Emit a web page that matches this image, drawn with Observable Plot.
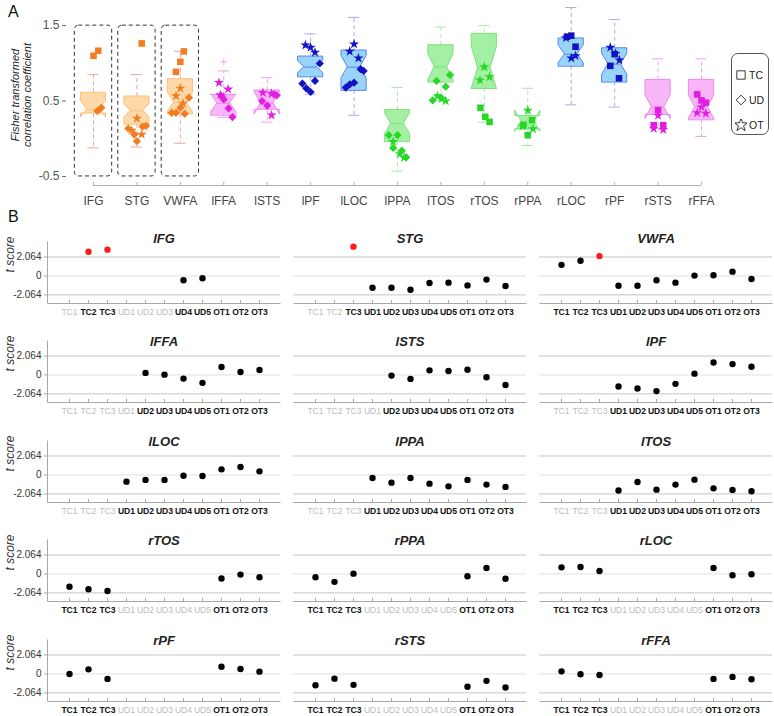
<!DOCTYPE html>
<html><head><meta charset="utf-8">
<script src="https://cdn.jsdelivr.net/npm/d3@7"></script>
<script src="https://cdn.jsdelivr.net/npm/@observablehq/plot@0.6"></script>
<style>
body{margin:0;background:#fff;font-family:"Liberation Sans",Arial,Helvetica,sans-serif;}
#page{position:relative;width:774px;height:716px;overflow:hidden;background:#fff;}
.plabel{position:absolute;font-size:16px;color:#111;}
#ytitleA{position:absolute;left:21px;top:95px;width:140px;transform:translate(-50%,-50%) rotate(-90deg);text-align:center;font-size:11px;line-height:12px;font-style:italic;color:#222;white-space:nowrap;}
#legend{position:absolute;left:731px;top:53px;width:38px;height:82px;border:1px solid #555;border-radius:7px;background:#fff;box-sizing:border-box;padding-top:8px;}
#legend div{display:flex;align-items:center;height:25px;font-size:10.5px;color:#222;padding-left:3px;}
#legend svg{margin-right:2px;}
</style></head><body><div id="page"></div>
<script>
// ---------- DATA ----------
const regions = ["IFG","STG","VWFA","lFFA","lSTS","lPF","lLOC","lPPA","lTOS","rTOS","rPPA","rLOC","rPF","rSTS","rFFA"];
const regionGroup = ["word","word","word","face","face","object","object","place","place","place","place","object","object","face","face"];
const highlighted = ["IFG","STG","VWFA"];
const yTicksA = [-0.5, 0.5, 1.5];
const yTitleA = ["Fisher transformed", "correlation coefficient"];

// box-plot statistics (Fisher z)
const whiskerLo = [-0.12,-0.11,-0.06,0.28,0.22,0.59,0.31,-0.43,0.50,0.22,-0.09,0.45,0.42,0.13,0.03];
const q1        = [0.33,0.19,0.33,0.31,0.38,0.82,0.64,-0.04,0.75,0.66,0.12,0.96,0.75,0.31,0.25];
const median    = [0.39,0.37,0.48,0.47,0.47,0.95,0.95,0.20,0.95,0.94,0.23,1.12,0.99,0.42,0.42];
const q3        = [0.61,0.56,0.79,0.58,0.64,1.09,1.17,0.38,1.24,1.39,0.30,1.33,1.20,0.78,0.78];
const whiskerHi = [0.85,0.85,1.16,0.90,0.81,1.39,1.61,0.68,1.48,1.50,0.67,1.74,1.58,1.06,1.06];
const notchHalf = [0.11,0.09,0.13,0.12,0.15,0.08,0.15,0.14,0.17,0.28,0.14,0.12,0.14,0.16,0.15];
const outlierRegion = ["lFFA"];
const outlierValue = [1.02];

// individual points (panel A): region, condition type, value, horizontal jitter (category units)
const ptRegion = ["IFG","IFG","IFG","IFG",
 "STG","STG","STG","STG","STG","STG","STG","STG","STG",
 "VWFA","VWFA","VWFA","VWFA","VWFA","VWFA","VWFA","VWFA","VWFA","VWFA","VWFA",
 "lFFA","lFFA","lFFA","lFFA","lFFA","lFFA","lFFA",
 "lSTS","lSTS","lSTS","lSTS","lSTS","lSTS","lSTS",
 "lPF","lPF","lPF","lPF","lPF","lPF","lPF","lPF",
 "lLOC","lLOC","lLOC","lLOC","lLOC","lLOC","lLOC","lLOC",
 "lPPA","lPPA","lPPA","lPPA","lPPA","lPPA","lPPA","lPPA",
 "lTOS","lTOS","lTOS","lTOS","lTOS","lTOS","lTOS","lTOS",
 "rTOS","rTOS","rTOS","rTOS","rTOS","rTOS",
 "rPPA","rPPA","rPPA","rPPA","rPPA","rPPA",
 "rLOC","rLOC","rLOC","rLOC","rLOC","rLOC",
 "rPF","rPF","rPF","rPF","rPF","rPF",
 "rSTS","rSTS","rSTS","rSTS","rSTS","rSTS",
 "rFFA","rFFA","rFFA","rFFA","rFFA","rFFA"];
const ptType = ["TC","TC","UD","UD",
 "TC","OT","OT","OT","UD","UD","UD","UD","UD",
 "TC","TC","TC","OT","OT","OT","UD","UD","UD","UD","UD",
 "OT","OT","OT","UD","UD","UD","UD",
 "OT","OT","OT","UD","UD","UD","UD",
 "OT","OT","OT","UD","UD","UD","UD","UD",
 "OT","OT","OT","UD","UD","UD","UD","UD",
 "UD","UD","UD","UD","UD","OT","OT","OT",
 "UD","UD","UD","UD","UD","OT","OT","OT",
 "TC","TC","TC","OT","OT","OT",
 "TC","TC","TC","OT","OT","OT",
 "TC","TC","TC","OT","OT","OT",
 "TC","TC","TC","OT","OT","OT",
 "TC","TC","TC","OT","OT","OT",
 "TC","TC","TC","OT","OT","OT"];
const ptValue = [1.10,1.167,0.367,0.41,
 1.264,0.269,0.109,0.056,0.136,0.056,-0.033,0.162,0.171,
 1.158,1.02,0.887,0.669,0.567,0.47,0.344,0.344,0.411,0.33,0.544,
 0.744,0.656,0.58,0.567,0.522,0.402,0.287,
 0.611,0.598,0.313,0.5,0.44,0.589,0.576,
 1.242,1.211,1.144,0.998,0.767,0.731,0.669,0.62,
 1.256,1.158,1.069,0.922,0.9,0.744,0.72,0.678,
 0.047,0.047,-0.122,-0.158,-0.247,-0.04,-0.2,-0.25,
 0.847,0.767,0.691,0.509,0.544,0.567,0.53,0.5,
 0.411,0.291,0.224,0.953,0.776,0.82,
 0.247,0.18,0.047,0.376,0.167,0.131,
 1.353,1.367,1.22,1.336,1.069,1.1,
 1.122,0.967,0.802,1.211,1.13,1.042,
 0.38,0.18,0.18,0.309,0.136,0.12,
 0.589,0.509,0.478,0.42,0.344,0.336];
const ptJitter = [0,0.11,0.09,0.18,
 0.11,0,-0.12,0.11,-0.2,-0.06,0,0.13,0.21,
 0.08,0,-0.1,0,-0.1,0.06,-0.2,-0.1,0,0.1,0.2,
 -0.11,0.1,-0.08,-0.05,0,0.11,0.2,
 -0.1,0.1,0.1,-0.12,0,0.16,0.22,
 -0.12,0,0.1,0.21,0.1,-0.19,-0.1,0,
 0,-0.1,0.1,0.15,0.22,0,-0.1,-0.19,
 -0.2,0,-0.1,0.1,0.2,-0.1,0.05,0.15,
 0.21,-0.1,0.11,-0.19,0,-0.08,0.02,0.11,
 -0.09,0.02,0.12,0,-0.1,0.12,
 0.1,-0.1,0,0,-0.12,0.12,
 -0.1,0,0.1,-0.12,0,0.1,
 0,-0.1,0.1,-0.1,0.02,0.11,
 0,-0.1,0.12,0,-0.1,0.12,
 -0.1,0,0.1,0,-0.1,0.1];

// panel B
const conds = ["TC1","TC2","TC3","UD1","UD2","UD3","UD4","UD5","OT1","OT2","OT3"];
const tCrit = 2.064;
const yTicksB = [-2.064, 0, 2.064];
const yTitleB = "t score";
const tScores = [
 [null,2.64,2.86,null,null,null,-0.47,-0.25,null,null,null],
 [null,null,3.19,-1.28,-1.28,-1.5,-0.77,-0.73,-1.03,-0.4,-1.1],
 [1.21,1.65,2.16,-1.06,-1.06,-0.47,-0.73,0.04,0.07,0.47,-0.33],
 [null,null,null,null,0.22,0.03,-0.4,-0.86,0.86,0.32,0.54],
 [null,null,null,null,-0.07,-0.43,0.5,0.43,0.57,-0.25,-1.1],
 [null,null,null,-1.26,-1.47,-1.76,-0.97,0.14,1.36,1.18,0.9],
 [null,null,null,-0.73,-0.54,-0.54,-0.08,-0.11,0.61,0.87,0.39],
 [null,null,null,-0.33,-0.84,-0.33,-0.95,-1.24,-0.54,-1.05,-1.3],
 [null,null,null,-1.7,-0.76,-1.6,-1.05,-0.51,-1.46,-1.63,-1.78],
 [-1.39,-1.67,-1.85,null,null,null,null,null,-0.5,-0.07,-0.36],
 [-0.36,-0.86,0.03,null,null,null,null,null,-0.25,0.64,-0.53],
 [0.72,0.75,0.32,null,null,null,null,null,0.64,-0.14,-0.03],
 [0,0.5,-0.54,null,null,null,null,null,0.79,0.54,0.25],
 [-1.23,-0.51,-1.19,null,null,null,null,null,-1.4,-0.75,-1.48],
 [0.28,-0.04,-0.11,null,null,null,null,null,-0.54,-0.32,-0.58]];
const activeConds = [
 [0,1,1,0,0,0,1,1,1,1,1],
 [0,0,1,1,1,1,1,1,1,1,1],
 [1,1,1,1,1,1,1,1,1,1,1],
 [0,0,0,0,1,1,1,1,1,1,1],
 [0,0,0,0,1,1,1,1,1,1,1],
 [0,0,0,1,1,1,1,1,1,1,1],
 [0,0,0,1,1,1,1,1,1,1,1],
 [0,0,0,1,1,1,1,1,1,1,1],
 [0,0,0,1,1,1,1,1,1,1,1],
 [1,1,1,0,0,0,0,0,1,1,1],
 [1,1,1,0,0,0,0,0,1,1,1],
 [1,1,1,0,0,0,0,0,1,1,1],
 [1,1,1,0,0,0,0,0,1,1,1],
 [1,1,1,0,0,0,0,0,1,1,1],
 [1,1,1,0,0,0,0,0,1,1,1]];

// ---------- STYLE ----------
const FONT = '"Liberation Sans", Arial, Helvetica, sans-serif';
const pal = {
  word:   {fill:"#FDD29A", edge:"#F9C27C", mark:"#F47B20", whisk:"#F2A2A2"},
  face:   {fill:"#F7A9F7", edge:"#EE88EE", mark:"#E21EE2", whisk:"#EFA0EF"},
  object: {fill:"#86CDF6", edge:"#5A84EC", mark:"#1212C4", whisk:"#ABABEE"},
  place:  {fill:"#93EC93", edge:"#7FE27F", mark:"#26D826", whisk:"#A6ECA6"}
};
const symOf = {TC:"square", UD:"diamond2", OT:"star"};
const rOf = {TC:3.7, UD:3.7, OT:3.2};

const page = document.getElementById("page");
function place(el, left, top){ el.style.position="absolute"; el.style.left=left+"px"; el.style.top=top+"px"; page.appendChild(el); }

// ---------- PANEL A ----------
const idx = d3.range(regions.length);
const yLoA = -0.62, yHiA = 1.767;
const boxShape = idx.flatMap(i => {
  const w = 0.29, nw = 0.145;
  const ys = [q1[i], median[i]-notchHalf[i], median[i], median[i]+notchHalf[i], q3[i]];
  const hw = [w, w, nw, w, w];
  return ys.map((y,k) => ({i, y, x1: i - hw[k], x2: i + hw[k], g: regionGroup[i]}));
});
const pts = ptValue.map((v,k) => ({i: regions.indexOf(ptRegion[k]), v, t: ptType[k], j: ptJitter[k], g: regionGroup[regions.indexOf(ptRegion[k])]}));
const outs = outlierValue.map((v,k) => ({i: regions.indexOf(outlierRegion[k]), v}));
const hl = highlighted.map(r => regions.indexOf(r));

const plotA = Plot.plot({
  width: 774, height: 215,
  marginLeft: 66, marginRight: 0, marginTop: 5, marginBottom: 30,
  x: {domain: [0, regions.length - 1], range: [93, 701], axis: null},
  y: {domain: [yLoA, yHiA], axis: null},
  style: {fontFamily: FONT, background: "transparent", overflow: "visible"},
  marks: [
    Plot.rect(hl, {x1: i => i - 0.43, x2: i => i + 0.43, y1: yTicksA[0], y2: yTicksA[yTicksA.length-1], rx: 4, fill: "none", stroke: "#333", strokeWidth: 1, strokeDasharray: "4,3"}),
    Plot.ruleY([yLoA], {x1: 0, x2: regions.length - 1, stroke: "#b0b0b0"}),
    Plot.tickX(idx, {x: d => d, insetTop: 177, stroke: "#b0b0b0"}),
    Plot.axisY({ticks: yTicksA, tickFormat: d => String(d), tickSize: 4, tickPadding: 3, fontSize: 12, stroke: "#666", color: "#555", label: null}),
    Plot.axisX({ticks: idx, tickFormat: i => regions[i], tickSize: 0, tickPadding: 11, fontSize: 12, color: "#444", label: null}),
    // whiskers
    Plot.ruleX(idx, {x: i => i, y1: i => q3[i], y2: i => whiskerHi[i], stroke: i => pal[regionGroup[i]].whisk, strokeDasharray: "4,3"}),
    Plot.ruleX(idx, {x: i => i, y1: i => q1[i], y2: i => whiskerLo[i], stroke: i => pal[regionGroup[i]].whisk, strokeDasharray: "4,3"}),
    Plot.ruleY(idx, {y: i => whiskerHi[i], x1: i => i - 0.13, x2: i => i + 0.13, stroke: i => pal[regionGroup[i]].whisk}),
    Plot.ruleY(idx, {y: i => whiskerLo[i], x1: i => i - 0.13, x2: i => i + 0.13, stroke: i => pal[regionGroup[i]].whisk}),
    // notched boxes
    Plot.areaX(boxShape, {y: "y", x1: "x1", x2: "x2", z: "i", fill: d => pal[d.g].fill, fillOpacity: 0.85, stroke: d => pal[d.g].edge, strokeWidth: 1, curve: "linear"}),
    Plot.ruleY(idx, {y: i => median[i], x1: i => i - 0.145, x2: i => i + 0.145, stroke: i => pal[regionGroup[i]].edge}),
    Plot.dot(outs, {x: "i", y: "v", symbol: "plus", r: 2.2, stroke: d => pal[regionGroup[d.i]].whisk, strokeWidth: 1}),
    // points
    ...["UD","OT","TC"].map(t => Plot.dot(pts.filter(d => d.t === t), {x: d => d.i + d.j, y: "v", symbol: symOf[t], r: rOf[t], fill: d => pal[d.g].mark, stroke: "none"}))
  ]
});
place(plotA, 0, 0);

// y title for panel A (two lines, rotated)
const yt = document.createElement("div");
yt.id = "ytitleA";
yt.innerHTML = yTitleA.join("<br>");
page.appendChild(yt);

// legend
const legend = document.createElement("div");
legend.id = "legend";
["TC","UD","OT"].forEach(t => {
  const row = document.createElement("div");
  const s = d3.create("svg").attr("width", 12).attr("height", 12);
  const size = t === "OT" ? 55 : t === "UD" ? 60 : 70;
  s.append("path").attr("transform", "translate(6,6)").attr("d", d3.symbol(d3["symbol" + (t === "TC" ? "Square" : t === "UD" ? "Diamond2" : "Star")], size)())
    .attr("fill", "none").attr("stroke", "#222").attr("stroke-width", 0.9);
  row.appendChild(s.node());
  const sp = document.createElement("span"); sp.textContent = t; row.appendChild(sp);
  legend.appendChild(row);
});
page.appendChild(legend);

// panel labels
[["A", 8, 3], ["B", 8, 208]].forEach(([t, x, y]) => { const d = document.createElement("div"); d.className = "plabel"; d.textContent = t; d.style.left = x + "px"; d.style.top = y + "px"; page.appendChild(d); });

// ---------- PANEL B ----------
const colLeft = [47, 293, 539];
const innerW = 233, innerH = 62, mTop = 20, mBot = 18;
const rowZero0 = 275, rowPitch = 99.6, zeroFromTop = 34.5;
const yDomB = [-3, 3.75];
regions.forEach((name, r) => {
  const col = r % 3, row = Math.floor(r / 3);
  const ml = col === 0 ? 47 : 0;
  const data = conds.map((c, k) => ({c, t: tScores[r][k]})).filter(d => d.t != null);
  const labs = conds.map((c, k) => ({c, on: activeConds[r][k] === 1}));
  const dash = col === 0 ? `0,${innerW + innerH},${innerW + innerH}` : `0,${innerW + innerH},${innerW},${innerH}`;
  const svg = Plot.plot({
    width: ml + innerW, height: mTop + innerH + mBot,
    marginLeft: ml, marginRight: 0, marginTop: mTop, marginBottom: mBot,
    x: {type: "point", domain: conds, padding: 1, axis: null},
    y: {domain: yDomB, axis: null},
    style: {fontFamily: FONT, background: "transparent", overflow: "visible"},
    marks: [
      Plot.ruleY([yTicksB[0], yTicksB[2]], {stroke: "#c4c4c4"}),
      Plot.ruleY([yTicksB[1]], {stroke: "#e0e0e0"}),
      Plot.frame({stroke: "#a8a8a8", strokeDasharray: dash}),
      Plot.tickX(conds, {x: d => d, insetTop: innerH - 3, stroke: "#a8a8a8"}),
      col === 0 ? Plot.axisY({ticks: yTicksB, tickFormat: d => String(d), tickSize: 3, tickPadding: 3, fontSize: 10, stroke: "#a8a8a8", color: "#333", label: null}) : null,
      col === 0 ? Plot.text([yTitleB], {frameAnchor: "left", dx: -37, rotate: -90, fontSize: 12, fontStyle: "italic", fill: "#333"}) : null,
      Plot.text(labs.filter(d => !d.on), {x: "c", text: "c", frameAnchor: "bottom", dy: 11, fontSize: 8.6, fill: "#bcbcbc"}),
      Plot.text(labs.filter(d => d.on), {x: "c", text: "c", frameAnchor: "bottom", dy: 11, fontSize: 8.6, fill: "#111", fontWeight: "bold"}),
      Plot.text([name], {frameAnchor: "top", dy: row === 0 ? -8 : -4, fontSize: 13, fontWeight: "bold", fontStyle: "italic", fill: "#222"}),
      Plot.dot(data, {x: "c", y: "t", r: 3.2, fill: d => d.t > tCrit ? "#ff1a1a" : "#000", stroke: "none"})
    ]
  });
  const zero = rowZero0 + rowPitch * row;
  place(svg, colLeft[col] - ml, zero - zeroFromTop - mTop);
});
</script></body></html>
